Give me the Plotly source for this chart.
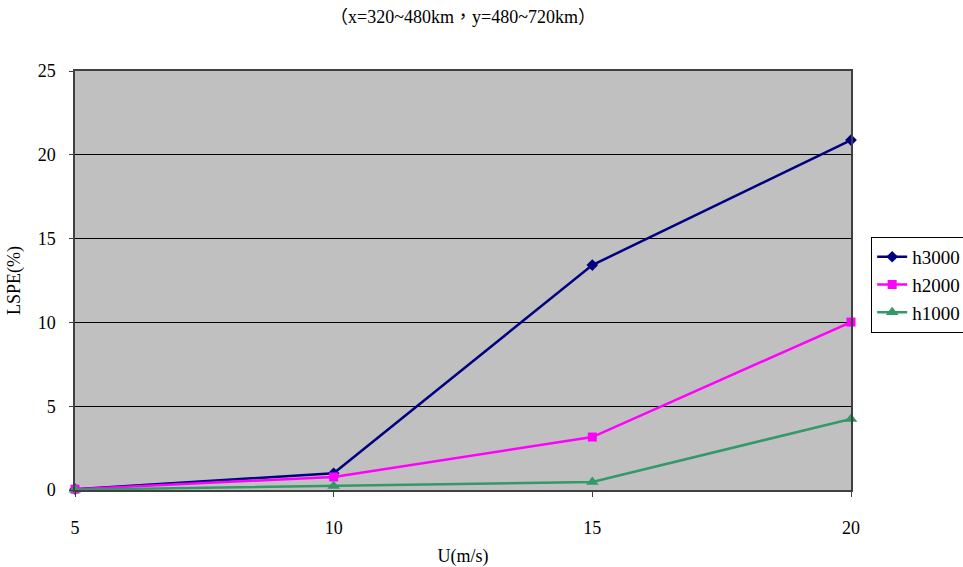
import plotly.graph_objects as go

# Wind speed U (m/s) and LSPE (%) for three heights
u_speed = [5, 10, 15, 20]
lspe_h3000 = [0.05, 1.0, 13.42, 20.88]
lspe_h2000 = [0.05, 0.78, 3.16, 10.02]
lspe_h1000 = [0.02, 0.24, 0.48, 4.24]

series_names = ["h3000", "h2000", "h1000"]
series_values = [lspe_h3000, lspe_h2000, lspe_h1000]
series_colors = ["#000080", "#FF00FF", "#339966"]
series_symbols = ["diamond", "square", "triangle-up"]
series_sizes = [9, 9, 11]

FONT = "Liberation Serif, Noto Sans CJK TC, DejaVu Serif, serif"

fig = go.Figure()
for name, vals, col, sym, sz in zip(series_names, series_values,
                                    series_colors, series_symbols, series_sizes):
    fig.add_trace(go.Scatter(
        x=u_speed, y=vals, name=name, mode="lines+markers",
        line=dict(color=col, width=2.5),
        marker=dict(symbol=sym, size=sz, color=col),
        cliponaxis=False,
    ))

fig.update_layout(
    width=963, height=567,
    margin=dict(l=75, r=112, t=71, b=77, autoexpand=False),
    paper_bgcolor="white",
    plot_bgcolor="#C0C0C0",
    font=dict(family=FONT, size=18, color="black"),
    title=dict(text="（x=320~480km，y=480~720km）",
               x=0.5, xref="paper", y=0.982, yanchor="top",
               font=dict(family=FONT, size=18)),
    legend=dict(x=1.026, y=0.604, xanchor="left", yanchor="top",
                bordercolor="black", borderwidth=1, bgcolor="white",
                font=dict(family=FONT, size=19),
                itemwidth=30),
    showlegend=True,
)

fig.update_xaxes(
    range=[5, 20], tickvals=[5, 10, 15, 20],
    showgrid=False, zeroline=False, automargin=False,
    showline=True, linecolor="#404040", linewidth=1.5, mirror=True,
    ticks="outside", ticklen=5, tickcolor="#404040",
    ticklabelstandoff=16,
    title=dict(text="U(m/s)", standoff=16, font=dict(family=FONT, size=18)),
)
fig.update_yaxes(
    range=[0, 25], tickvals=[0, 5, 10, 15, 20, 25],
    showgrid=True, gridcolor="black", gridwidth=1,
    zeroline=False, automargin=False,
    showline=True, linecolor="#404040", linewidth=1.5, mirror=True,
    ticks="outside", ticklen=4, tickcolor="#404040",
    ticklabelstandoff=10,
    title=dict(text="LSPE(%)", standoff=12, font=dict(family=FONT, size=18)),
)

fig.write_html("out.html")
